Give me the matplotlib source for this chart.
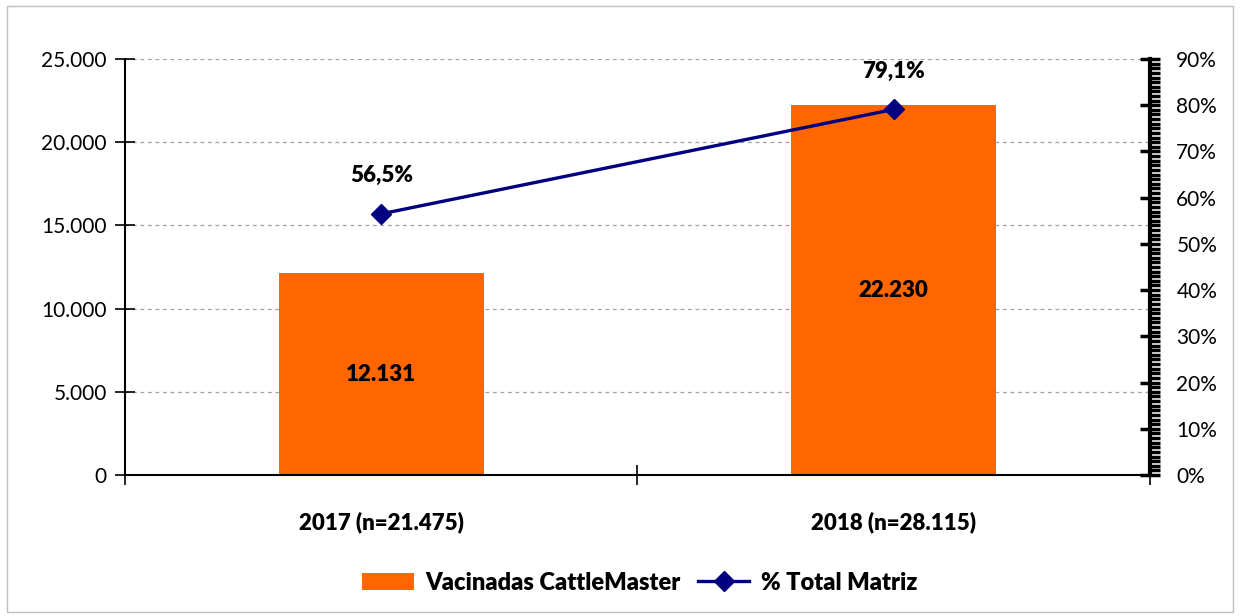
import matplotlib
matplotlib.use('Agg')
import matplotlib.pyplot as plt
from matplotlib.patches import Rectangle
from matplotlib.ticker import MultipleLocator, FuncFormatter
import numpy as np

# data
categories = ['2017 (n=21.475)', '2018 (n=28.115)']
vacinadas = [12131, 22230]
pct_total = [56.5, 79.1]

bar_color = '#FF6600'
line_color = '#000080'

plt.rcParams['font.family'] = ['Lato', 'DejaVu Sans']

fig = plt.figure(figsize=(12.4, 6.16), dpi=100)
fig.patches.append(Rectangle((0.006, 0.006), 0.988, 0.985, transform=fig.transFigure,
                             fill=False, edgecolor='#BFBFBF', linewidth=1))
ax = fig.add_axes([0.1008, 0.2289, 0.8266, 0.6753])
ax2 = ax.twinx()

x = np.arange(len(categories))
bars = ax.bar(x, vacinadas, width=0.4, color=bar_color, zorder=2, label='Vacinadas CattleMaster')

def thousands(v):
    return '{:,.0f}'.format(v).replace(',', '.')

for xi, v in zip(x, vacinadas):
    ax.text(xi, v / 2, thousands(v), ha='center', va='center', fontsize=16, fontweight='heavy')

ax.set_xlim(-0.5, 1.5)
ax.set_ylim(0, 25000)
ax.yaxis.set_major_locator(MultipleLocator(5000))
ax.yaxis.set_major_formatter(FuncFormatter(lambda v, p: thousands(v)))
ax.grid(axis='y', linestyle=(0, (3, 3)), color='#A0A0A0', linewidth=0.9, zorder=0)
ax.set_axisbelow(True)

ax.set_xticks([-0.5, 0.5, 1.5])
ax.set_xticklabels([])
ax.set_xticks(x, minor=True)
ax.set_xticklabels(categories, minor=True, fontsize=16, fontweight='heavy')
ax.tick_params(axis='x', which='minor', length=0, pad=26)
ax.tick_params(axis='x', which='major', direction='inout', length=14, width=1.2)
ax.tick_params(axis='y', direction='inout', length=14, width=1.2, labelsize=15, pad=6)

for s in ['top', 'right']:
    ax.spines[s].set_visible(False)
ax.spines['left'].set_linewidth(1.5)
ax.spines['bottom'].set_linewidth(1.5)

line, = ax2.plot(x, pct_total, color=line_color, linewidth=2.4, marker='D', markersize=10,
                 zorder=3, label='% Total Matriz')
for xi, v in zip(x, pct_total):
    ax2.annotate('{:.1f}%'.format(v).replace('.', ','), (xi, v), xytext=(0, 20),
                 textcoords='offset points', ha='center', va='bottom', fontsize=16, fontweight='heavy')

ax2.set_ylim(0, 90)
ax2.yaxis.set_major_locator(MultipleLocator(10))
ax2.yaxis.set_minor_locator(MultipleLocator(1))
ax2.yaxis.set_major_formatter(FuncFormatter(lambda v, p: '{:.0f}%'.format(v)))
ax2.tick_params(axis='y', which='major', direction='inout', length=14, width=2.5, labelsize=15, pad=12)
ax2.tick_params(axis='y', which='minor', direction='out', length=7, width=2.5)
for s in ['top', 'left', 'bottom']:
    ax2.spines[s].set_visible(False)
ax2.spines['right'].set_linewidth(3)

leg = fig.legend([bars, line], ['Vacinadas CattleMaster', '% Total Matriz'], loc='center',
                 bbox_to_anchor=(0.516, 0.054), ncol=2, frameon=False, handlelength=2.2,
                 handletextpad=0.5, columnspacing=0.7, prop={'size': 17, 'weight': 'heavy'})

fig.savefig('out.png', dpi=100)
